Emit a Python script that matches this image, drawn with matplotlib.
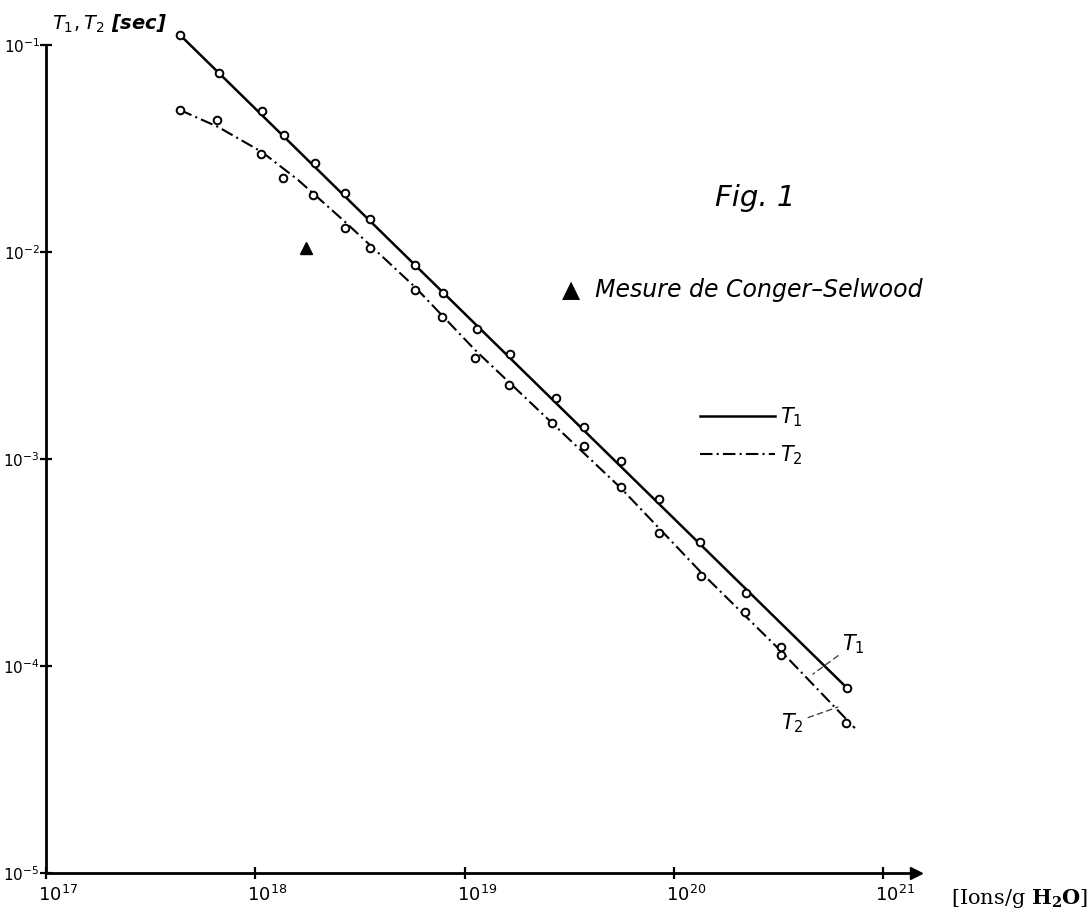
import matplotlib
matplotlib.use('Agg')
import matplotlib.pyplot as plt
import matplotlib.transforms as mtransforms
from matplotlib.lines import Line2D

# concentration [ions/g H2O] and relaxation times [sec]
conc_t1 = [4.39e17, 6.69e17, 1.077e18, 1.367e18, 1.923e18, 2.675e18, 3.52e18,
           5.78e18, 7.89e18, 1.143e19, 1.653e19, 2.72e19, 3.72e19, 5.61e19,
           8.49e19, 1.337e20, 2.21e20, 3.26e20, 6.71e20]
t1_vals = [0.112, 0.0730, 0.0478, 0.0369, 0.0269, 0.0192, 0.0144,
           8.63e-3, 6.35e-3, 4.26e-3, 3.21e-3, 1.98e-3, 1.42e-3, 9.81e-4,
           6.39e-4, 3.96e-4, 2.26e-4, 1.24e-4, 7.83e-5]

conc_t2 = [4.35e17, 6.56e17, 1.069e18, 1.356e18, 1.887e18, 2.69e18, 3.52e18,
           5.78e18, 7.82e18, 1.117e19, 1.629e19, 2.62e19, 3.71e19, 5.61e19,
           8.49e19, 1.343e20, 2.19e20, 3.26e20, 6.64e20]
t2_vals = [0.0484, 0.0435, 0.0297, 0.0229, 0.0189, 0.0131, 0.0104,
           6.55e-3, 4.84e-3, 3.09e-3, 2.28e-3, 1.50e-3, 1.15e-3, 7.30e-4,
           4.38e-4, 2.72e-4, 1.83e-4, 1.13e-4, 5.31e-5]

# drawn curves
t1_fit_conc = [4.37e17, 6.87e20]
t1_fit_vals = [0.1118, 7.66e-5]
t2_curve_conc = [4.37e17, 6.64e17, 1.077e18, 1.60e18, 2.69e18, 5.79e18, 1.133e19,
                 2.64e19, 5.58e19, 1.346e20, 3.25e20, 7.33e20]
t2_curve_vals = [0.0485, 0.0402, 0.0304, 0.0223, 0.01396, 6.78e-3, 3.33e-3,
                 1.48e-3, 7.24e-4, 2.84e-4, 1.18e-4, 5.01e-5]

# Conger-Selwood measurement
cs_conc = [1.75e18]
cs_vals = [1.04e-2]

xticks = [1e17, 1e18, 1e19, 1e20, 1e21]
xtick_labels = [r'$10^{17}$', r'$10^{18}$', r'$10^{19}$', r'$10^{20}$', r'$10^{21}$']
yticks = [1e-5, 1e-4, 1e-3, 1e-2, 1e-1]
ytick_labels = [r'$10^{-5}$', r'$10^{-4}$', r'$10^{-3}$', r'$10^{-2}$', r'$10^{-1}$']

plt.rcParams['mathtext.fontset'] = 'dejavusans'

W, H = 1092, 922
fig = plt.figure(figsize=(W / 100, H / 100), dpi=100)
ax = fig.add_axes([46 / W, 1 - 873 / H, (916 - 46) / W, (873 - 45) / H])
ax.set_xscale('log')
ax.set_yscale('log')
ax.set_xlim(1e17, 10 ** 21.157)
ax.set_ylim(1e-5, 1e-1)

ax.plot(t1_fit_conc, t1_fit_vals, color='black', lw=1.8, solid_capstyle='butt',
        clip_on=False)
ax.plot(t2_curve_conc, t2_curve_vals, color='black', lw=1.5, dashes=(6, 2, 1, 2))
ax.plot(conc_t1, t1_vals, 'o', ms=5.5, mfc='white', mec='black', mew=1.4, clip_on=False)
ax.plot(conc_t2, t2_vals, 'o', ms=5.5, mfc='white', mec='black', mew=1.4)
ax.plot(cs_conc, cs_vals, '^', ms=9, color='black')

# curve labels with dashed leaders
ax.annotate(r'$T_1$', xy=(4.62e20, 9.14e-5), xytext=(7.2e20, 1.27e-4),
            fontsize=15, ha='center', va='center',
            arrowprops=dict(arrowstyle='-', color='#444444', lw=1, ls=(0, (4, 3)),
                            shrinkA=1, shrinkB=0))
ax.annotate(r'$T_2$', xy=(6.08e20, 6.34e-5), xytext=(3.7e20, 5.3e-5),
            fontsize=15, ha='center', va='center',
            arrowprops=dict(arrowstyle='-', color='#444444', lw=1, ls=(0, (4, 3)),
                            shrinkA=1, shrinkB=0))

# axes styling
for side in ['top', 'right']:
    ax.spines[side].set_visible(False)
for side in ['left', 'bottom']:
    ax.spines[side].set_linewidth(2.0)
ax.set_xticks(xticks)
ax.set_xticklabels(xtick_labels)
ax.set_yticks(yticks)
ax.set_yticklabels(ytick_labels)
ax.minorticks_off()
ax.tick_params(axis='both', direction='inout', length=9, width=1.6, labelsize=13)
ax.tick_params(axis='x', pad=4)
ax.tick_params(axis='y', pad=0, labelsize=11)
shift = mtransforms.ScaledTranslation(-8 / 100, 0, fig.dpi_scale_trans)
for lbl in ax.get_xticklabels():
    lbl.set_horizontalalignment('left')
    lbl.set_transform(lbl.get_transform() + shift)

# arrow at end of x axis
ax.plot([1], [0], marker='>', ms=9, color='black', transform=ax.transAxes, clip_on=False)

# legend
handles = [Line2D([], [], color='black', lw=1.8),
           Line2D([], [], color='black', lw=1.5, dashes=(6, 2, 1, 2))]
leg = ax.legend(handles, [r'$T_1$', r'$T_2$'], frameon=False, fontsize=15,
                handlelength=3.6, handletextpad=0.25, labelspacing=0.7,
                loc='upper left', bbox_to_anchor=(700 / W, 1 - 405 / H),
                bbox_transform=fig.transFigure, borderaxespad=0, borderpad=0)

# texts
fig.text(52 / W, 1 - 24 / H, r'$T_1 , T_2$ [sec]', fontsize=14, style='italic',
         fontweight='bold', va='center', ha='left')
fig.text(755 / W, 1 - 198 / H, 'Fig. 1', fontsize=21, style='italic',
         va='center', ha='center')
fig.text(562 / W, 1 - 290 / H, '\u25b2  Mesure de Conger\u2013Selwood', fontsize=17,
         style='italic', va='center', ha='left')
fig.text(1088 / W, 1 - 898 / H, r'[Ions/g $\mathbf{H_2O}$]', fontsize=15,
         family='DejaVu Serif', math_fontfamily='dejavuserif',
         va='center', ha='right')

fig.savefig('out.png', dpi=100)
